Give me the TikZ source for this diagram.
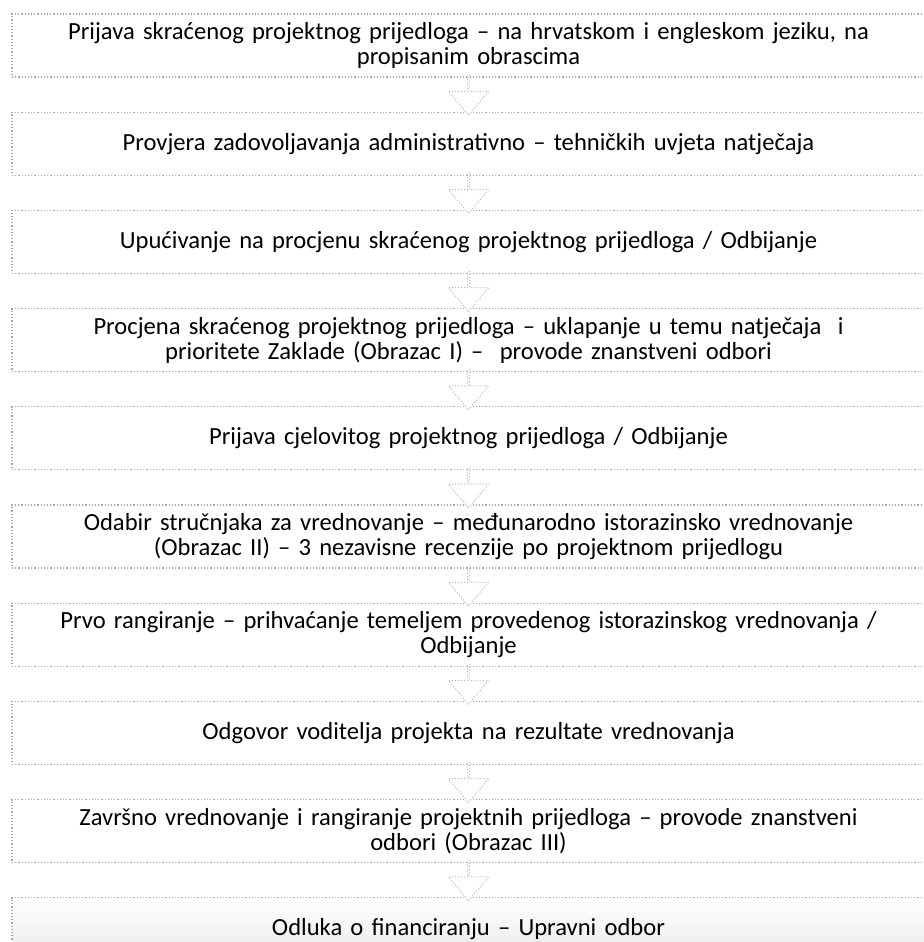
\documentclass[tikz,border=0pt]{standalone}
\usepackage{fontspec}
\setmainfont{Carlito}
\usetikzlibrary{positioning}
\usetikzlibrary{shapes.arrows}

\begin{document}
\begin{tikzpicture}[
  x=0.5pt, y=-0.5pt,
  node distance=17pt,
  procbox/.style={draw=gray!70, densely dotted, line width=0.6pt, minimum width=456.5pt, minimum height=31.5pt, text width=450pt, align=center, inner sep=2pt, font=\fontsize{12.3}{12.6}\selectfont},
  downarrow/.style={single arrow, shape border rotate=270, draw=gray!60, densely dotted, line width=0.5pt, fill=white, minimum height=20pt, minimum width=20pt, single arrow head extend=5pt, single arrow tip angle=80, inner sep=0pt}
]
\useasboundingbox (0,0) rectangle (923,942);

\node[procbox] (s1) at (468.5,45.5) {Prijava skraćenog projektnog prijedloga – na hrvatskom i engleskom jeziku, na\\ propisanim obrascima};
\node[procbox, below=of s1] (s2) {Provjera zadovoljavanja administrativno – tehničkih uvjeta natječaja};
\node[procbox, below=of s2] (s3) {Upućivanje na procjenu skraćenog projektnog prijedloga / Odbijanje};
\node[procbox, below=of s3] (s4) {Procjena skraćenog projektnog prijedloga – uklapanje u temu natječaja \ i\\ prioritete Zaklade (Obrazac I) – \ provode znanstveni odbori};
\node[procbox, below=of s4] (s5) {Prijava cjelovitog projektnog prijedloga / Odbijanje};
\node[procbox, below=of s5] (s6) {Odabir stručnjaka za vrednovanje – međunarodno istorazinsko vrednovanje\\ (Obrazac II) – 3 nezavisne recenzije po projektnom prijedlogu};
\node[procbox, below=of s6] (s7) {Prvo rangiranje – prihvaćanje temeljem provedenog istorazinskog vrednovanja /\\ Odbijanje};
\node[procbox, below=of s7] (s8) {Odgovor voditelja projekta na rezultate vrednovanja};
\node[procbox, below=of s8] (s9) {Završno vrednovanje i rangiranje projektnih prijedloga – provode znanstveni\\ odbori (Obrazac III)};
\node[procbox, below=of s9, top color=white, bottom color=gray!18] (s10) {Odluka o financiranju – Upravni odbor};

\foreach \a/\b in {s1/s2,s2/s3,s3/s4,s4/s5,s5/s6,s6/s7,s7/s8,s8/s9,s9/s10}
  \path (\a) -- node[downarrow] {} (\b);

\end{tikzpicture}
\end{document}
